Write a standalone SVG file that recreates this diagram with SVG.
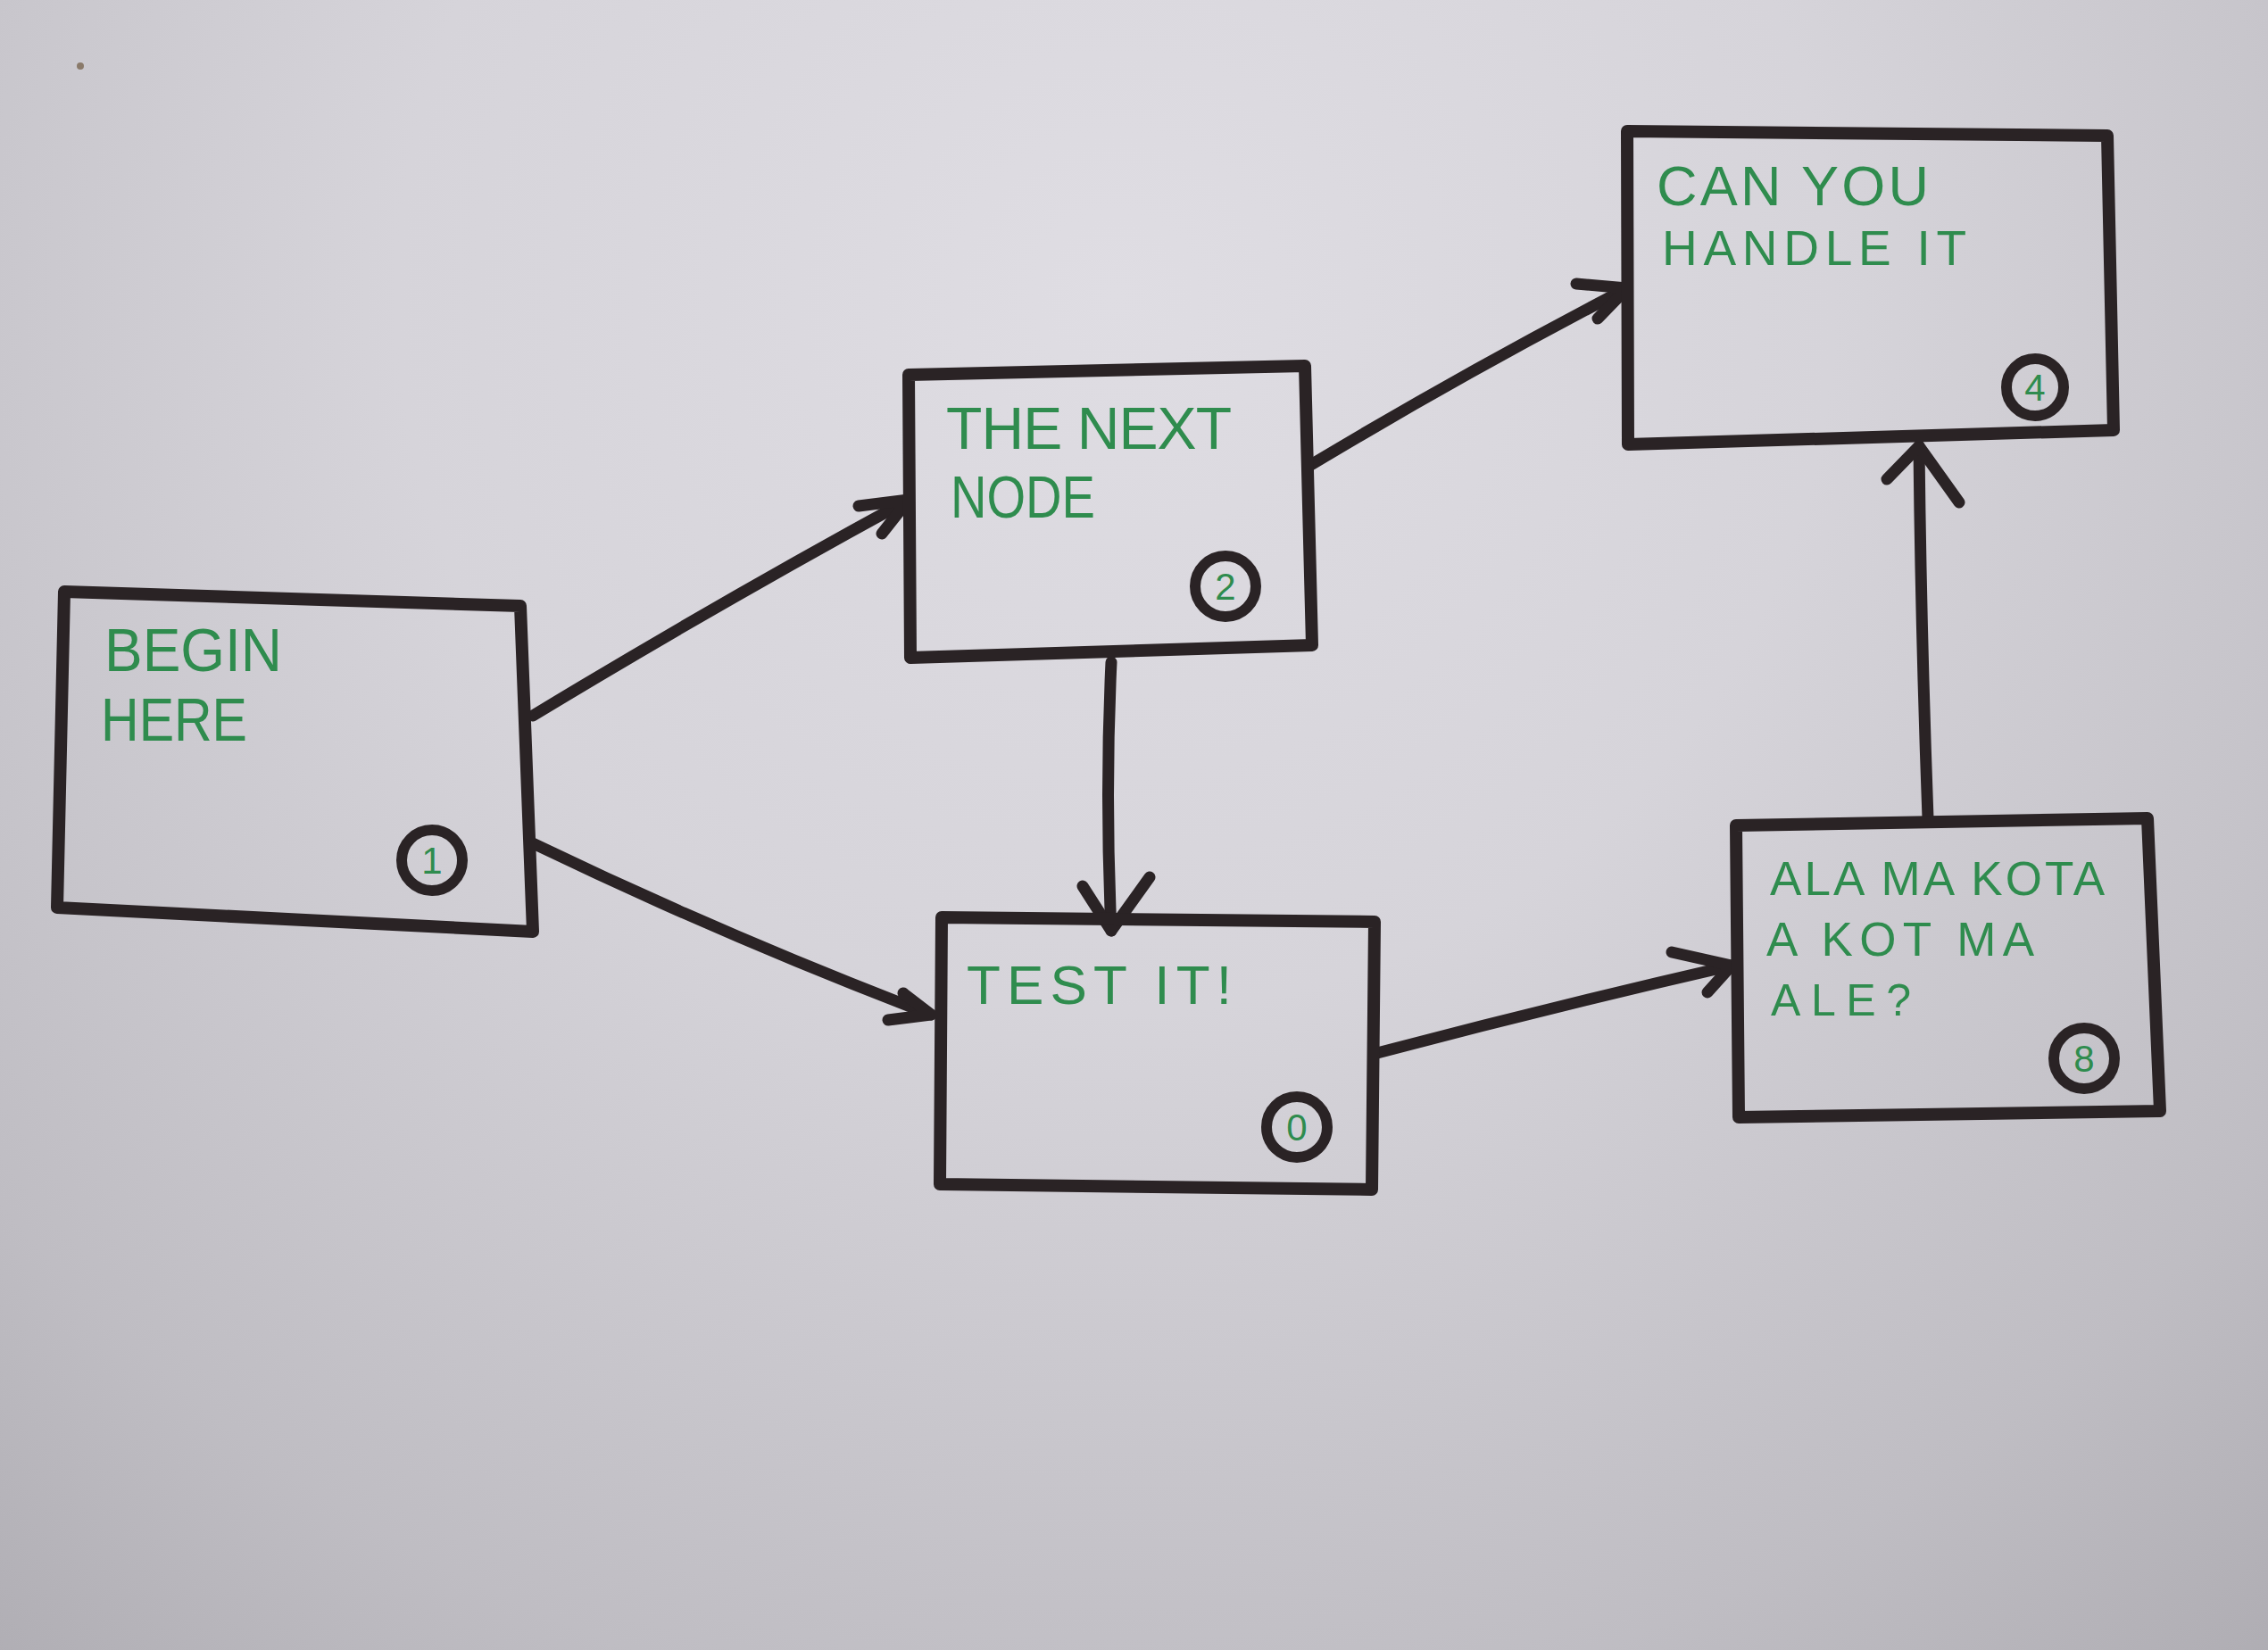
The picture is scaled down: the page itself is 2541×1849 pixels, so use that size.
<svg xmlns="http://www.w3.org/2000/svg" width="2541" height="1849" viewBox="0 0 2541 1849">
<defs>
<radialGradient id="bg" cx="1250" cy="330" r="2300" gradientUnits="userSpaceOnUse">
<stop offset="0" stop-color="#dfdde3"/>
<stop offset="0.35" stop-color="#d6d4da"/>
<stop offset="0.7" stop-color="#bfbdc3"/>
<stop offset="1" stop-color="#a3a1a7"/>
</radialGradient>
<style>
.box{fill:none;stroke:#2a2325;stroke-width:14;stroke-linejoin:round;stroke-linecap:round}
.num{fill:none;stroke:#2a2325;stroke-width:12}
.lbl{font-family:"Liberation Sans",Arial,sans-serif;fill:#2f8c4e}
.dig{font-family:"Liberation Sans",Arial,sans-serif;fill:#2f8c4e;font-size:42px;text-anchor:middle}
.edge{fill:none;stroke:#2a2325;stroke-width:13;stroke-linecap:round;stroke-linejoin:round}
</style>
</defs>
<rect x="0" y="0" width="2541" height="1849" fill="url(#bg)"/>
<circle cx="90" cy="74" r="4" fill="#8a7a6a"/>

<g id="connectors">
<path class="edge" d="M597,802 Q805,676 1018,560"/>
<path class="edge" d="M962,567 L1018,560 L988,598"/>
<path class="edge" d="M597,945 Q815,1050 1043,1137"/>
<path class="edge" d="M1012,1113 L1043,1137 L995,1143"/>
<path class="edge" d="M1245,742 Q1238,890 1245,1043"/>
<path class="edge" d="M1213,993 L1245,1043 L1288,983"/>
<path class="edge" d="M1467,522 Q1640,418 1823,323"/>
<path class="edge" d="M1766,318 L1823,323 L1790,357"/>
<path class="edge" d="M1543,1180 Q1740,1128 1940,1082"/>
<path class="edge" d="M1873,1067 L1940,1082 L1913,1112"/>
<path class="edge" d="M2160,917 Q2152,700 2150,500"/>
<path class="edge" d="M2114,537 L2150,500 L2195,563"/>
</g>

<g id="node1">
<path class="box" d="M72,663 L583,679 L597,1044 L64,1017 Z"/>
<text class="lbl" style="font-size:68px" x="117" y="752" textLength="199" lengthAdjust="spacingAndGlyphs">BEGIN</text>
<text class="lbl" style="font-size:68px" x="113" y="830" textLength="164" lengthAdjust="spacingAndGlyphs">HERE</text>
<circle class="num" cx="484" cy="964" r="34" stroke-width="10"/>
<text class="dig" x="484" y="979">1</text>
</g>

<g id="node2">
<path class="box" d="M1018,420 L1462,410 L1470,723 L1020,737 Z"/>
<text class="lbl" style="font-size:66px" x="1060" y="503" textLength="320" lengthAdjust="spacing">THE NEXT</text>
<text class="lbl" style="font-size:66px" x="1065" y="580" textLength="162" lengthAdjust="spacingAndGlyphs">NODE</text>
<circle class="num" cx="1373" cy="657" r="34"/>
<text class="dig" x="1373" y="672">2</text>
</g>

<g id="node0">
<path class="box" d="M1055,1028 L1540,1033 L1537,1333 L1053,1327 Z"/>
<text class="lbl" style="font-size:62px" x="1083" y="1125" textLength="297" lengthAdjust="spacing">TEST IT!</text>
<circle class="num" cx="1453" cy="1263" r="34"/>
<text class="dig" x="1453" y="1278">0</text>
</g>

<g id="node4">
<path class="box" d="M1823,147 L2361,152 L2368,482 L1824,498 Z"/>
<text class="lbl" style="font-size:63px" x="1856" y="230" textLength="305" lengthAdjust="spacing">CAN YOU</text>
<text class="lbl" style="font-size:55px" x="1862" y="297" textLength="341" lengthAdjust="spacing">HANDLE IT</text>
<circle class="num" cx="2280" cy="434" r="32"/>
<text class="dig" x="2280" y="449">4</text>
</g>

<g id="node8">
<path class="box" d="M1945,925 L2406,917 L2420,1245 L1948,1252 Z"/>
<text class="lbl" style="font-size:53px" x="1983" y="1003" textLength="375" lengthAdjust="spacing">ALA MA KOTA</text>
<text class="lbl" style="font-size:53px" x="1979" y="1071" textLength="300" lengthAdjust="spacing">A KOT MA</text>
<text class="lbl" style="font-size:50px" x="1984" y="1138" textLength="157" lengthAdjust="spacing">ALE?</text>
<circle class="num" cx="2335" cy="1186" r="34" stroke-width="15"/>
<text class="dig" x="2335" y="1201">8</text>
</g>
</svg>
